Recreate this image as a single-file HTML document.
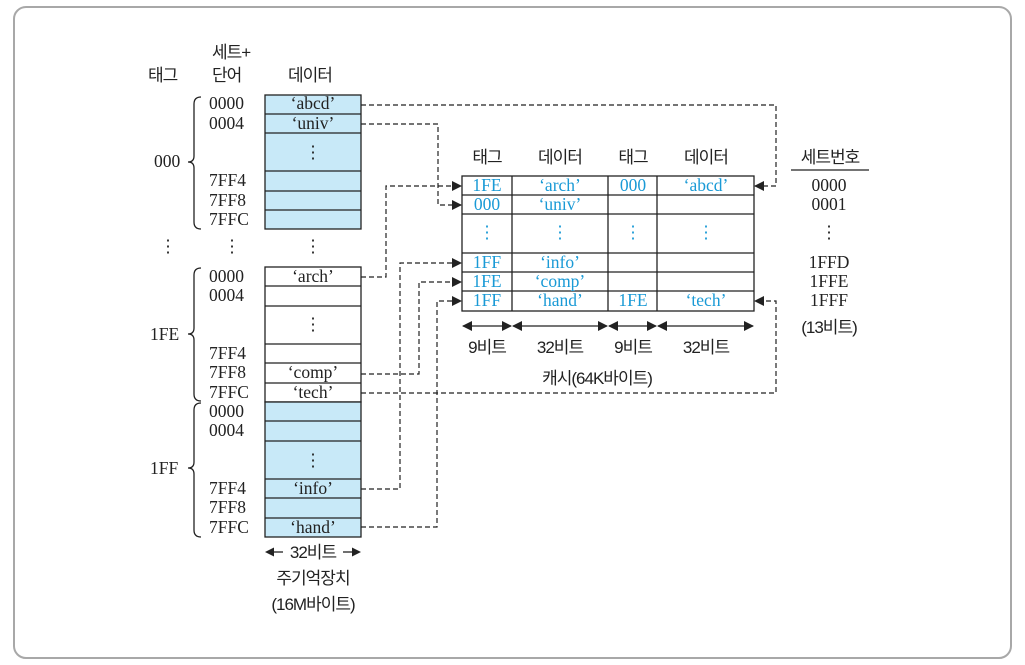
<!DOCTYPE html>
<html><head><meta charset="utf-8"><style>
html,body{margin:0;padding:0;background:#fff;}
svg{display:block;}
.k{font-family:"Liberation Sans","Noto Sans CJK KR",sans-serif;font-size:17px;fill:#222;letter-spacing:-1px;}
.s{font-family:"Liberation Serif","DejaVu Serif",serif;font-size:17.5px;fill:#222;}
.c{font-family:"Liberation Serif","DejaVu Serif",serif;font-size:17.5px;fill:#1a9ad6;}
.d{stroke:#222;stroke-width:1.2;fill:none;stroke-dasharray:5,3;}
.l{stroke:#222;stroke-width:1.3;fill:none;}
</style></head><body>
<svg width="1025" height="665" viewBox="0 0 1025 665" xmlns="http://www.w3.org/2000/svg">
<defs>
<marker id="a" markerWidth="10" markerHeight="10" refX="9" refY="5" orient="auto" markerUnits="userSpaceOnUse"><path d="M0,0 L10,5 L0,10 z" fill="#222"/></marker>
<marker id="b" markerWidth="10" markerHeight="10" refX="1" refY="5" orient="auto" markerUnits="userSpaceOnUse"><path d="M10,0 L0,5 L10,10 z" fill="#222"/></marker>
</defs>
<rect x="14" y="7" width="997" height="651" rx="12" fill="#fff" stroke="#a8a8a8" stroke-width="2"/>

<text class="k" x="148" y="81">태그</text>
<text class="k" x="212" y="58">세트+</text>
<text class="k" x="212" y="81">단어</text>
<text class="k" x="288" y="81">데이터</text>

<g class="l">
<rect x="265" y="95" width="96" height="134" fill="#c8e9f8"/>
<line x1="265" y1="114" x2="361" y2="114"/><line x1="265" y1="133" x2="361" y2="133"/>
<line x1="265" y1="171" x2="361" y2="171"/><line x1="265" y1="191" x2="361" y2="191"/><line x1="265" y1="210" x2="361" y2="210"/>
<rect x="265" y="267" width="96" height="135" fill="#fff"/>
<line x1="265" y1="286" x2="361" y2="286"/><line x1="265" y1="306" x2="361" y2="306"/>
<line x1="265" y1="344" x2="361" y2="344"/><line x1="265" y1="363" x2="361" y2="363"/><line x1="265" y1="383" x2="361" y2="383"/>
<rect x="265" y="402" width="96" height="135" fill="#c8e9f8"/>
<line x1="265" y1="421" x2="361" y2="421"/><line x1="265" y1="441" x2="361" y2="441"/>
<line x1="265" y1="479" x2="361" y2="479"/><line x1="265" y1="498" x2="361" y2="498"/><line x1="265" y1="518" x2="361" y2="518"/>
</g>
<g class="s" text-anchor="middle">
<text x="313" y="109">‘abcd’</text><text x="313" y="129">‘univ’</text><text x="313" y="158">⋮</text>
<text x="313" y="252">⋮</text>
<text x="313" y="282">‘arch’</text><text x="313" y="330">⋮</text>
<text x="313" y="378">‘comp’</text><text x="313" y="398">‘tech’</text>
<text x="313" y="466">⋮</text>
<text x="313" y="494">‘info’</text><text x="313" y="533">‘hand’</text>
<text x="168" y="252">⋮</text><text x="232" y="252">⋮</text>
</g>
<g class="s">
<text x="209" y="109">0000</text><text x="209" y="129">0004</text>
<text x="209" y="186">7FF4</text><text x="209" y="206">7FF8</text><text x="209" y="225">7FFC</text>
<text x="209" y="282">0000</text><text x="209" y="301">0004</text>
<text x="209" y="359">7FF4</text><text x="209" y="378">7FF8</text><text x="209" y="398">7FFC</text>
<text x="209" y="417">0000</text><text x="209" y="436">0004</text>
<text x="209" y="494">7FF4</text><text x="209" y="513">7FF8</text><text x="209" y="533">7FFC</text>
<text x="154" y="167">000</text><text x="150" y="340">1FE</text><text x="150" y="474">1FF</text>
</g>
<g class="l" stroke-width="1.2">
<path d="M201,97 Q194,97 194,104 L194,156 Q194,162 188,162 Q194,162 194,168 L194,222 Q194,229 201,229"/>
<path d="M201,268 Q194,268 194,275 L194,328 Q194,334 188,334 Q194,334 194,340 L194,394 Q194,401 201,401"/>
<path d="M201,403 Q194,403 194,410 L194,462 Q194,468 188,468 Q194,468 194,474 L194,530 Q194,537 201,537"/>
</g>

<path d="M265,552 l9,-4.5 v9 z M361,552 l-9,-4.5 v9 z" fill="#222"/>
<line x1="270" y1="552" x2="283" y2="552" stroke="#222" stroke-width="1.3"/>
<line x1="343" y1="552" x2="356" y2="552" stroke="#222" stroke-width="1.3"/>
<text class="k" x="313" y="558" text-anchor="middle">32비트</text>
<text class="k" x="313" y="584" text-anchor="middle">주기억장치</text>
<text class="k" x="313" y="610" text-anchor="middle">(16M바이트)</text>

<g class="k" text-anchor="middle">
<text x="487" y="163">태그</text><text x="560" y="163">데이터</text>
<text x="633" y="163">태그</text><text x="706" y="163">데이터</text>
<text x="830" y="163">세트번호</text>
</g>
<line x1="791" y1="170" x2="869" y2="170" stroke="#222" stroke-width="1.2"/>
<g class="l">
<rect x="462" y="176" width="292" height="135" fill="#fff"/>
<line x1="462" y1="195" x2="754" y2="195"/><line x1="462" y1="214" x2="754" y2="214"/>
<line x1="462" y1="253" x2="754" y2="253"/><line x1="462" y1="272" x2="754" y2="272"/><line x1="462" y1="291" x2="754" y2="291"/>
<line x1="512" y1="176" x2="512" y2="311"/><line x1="608" y1="176" x2="608" y2="311"/><line x1="657" y1="176" x2="657" y2="311"/>
</g>
<g class="c" text-anchor="middle">
<text x="487" y="191">1FE</text><text x="560" y="191">‘arch’</text><text x="633" y="191">000</text><text x="706" y="191">‘abcd’</text>
<text x="487" y="210">000</text><text x="560" y="210">‘univ’</text>
<text x="487" y="238">⋮</text><text x="560" y="238">⋮</text><text x="633" y="238">⋮</text><text x="706" y="238">⋮</text>
<text x="487" y="268">1FF</text><text x="560" y="268">‘info’</text>
<text x="487" y="287">1FE</text><text x="560" y="287">‘comp’</text>
<text x="487" y="306">1FF</text><text x="560" y="306">‘hand’</text><text x="633" y="306">1FE</text><text x="706" y="306">‘tech’</text>
</g>
<g class="s" text-anchor="middle">
<text x="829" y="191">0000</text><text x="829" y="210">0001</text><text x="829" y="238">⋮</text>
<text x="829" y="268">1FFD</text><text x="829" y="287">1FFE</text><text x="829" y="306">1FFF</text>
</g>
<text class="k" x="829" y="333" text-anchor="middle">(13비트)</text>

<g stroke="#222" stroke-width="1.3">
<line x1="463" y1="326" x2="511" y2="326" marker-start="url(#b)" marker-end="url(#a)"/>
<line x1="513" y1="326" x2="607" y2="326" marker-start="url(#b)" marker-end="url(#a)"/>
<line x1="609" y1="326" x2="656" y2="326" marker-start="url(#b)" marker-end="url(#a)"/>
<line x1="658" y1="326" x2="753" y2="326" marker-start="url(#b)" marker-end="url(#a)"/>
</g>
<g class="k" text-anchor="middle">
<text x="487" y="353">9비트</text><text x="560" y="353">32비트</text>
<text x="633" y="353">9비트</text><text x="706" y="353">32비트</text>
<text x="597" y="384">캐시(64K바이트)</text>
</g>

<g class="d">
<path d="M361,105 H776 V186 H755" marker-end="url(#a)"/>
<path d="M361,124 H438 V205 H461" marker-end="url(#a)"/>
<path d="M361,277 H386 V186 H461" marker-end="url(#a)"/>
<path d="M361,489 H400 V263 H461" marker-end="url(#a)"/>
<path d="M361,374 H419 V282 H461" marker-end="url(#a)"/>
<path d="M361,527 H437 V301 H461" marker-end="url(#a)"/>
<path d="M361,393 H776 V301 H755" marker-end="url(#a)"/>
</g>
</svg>
</body></html>
